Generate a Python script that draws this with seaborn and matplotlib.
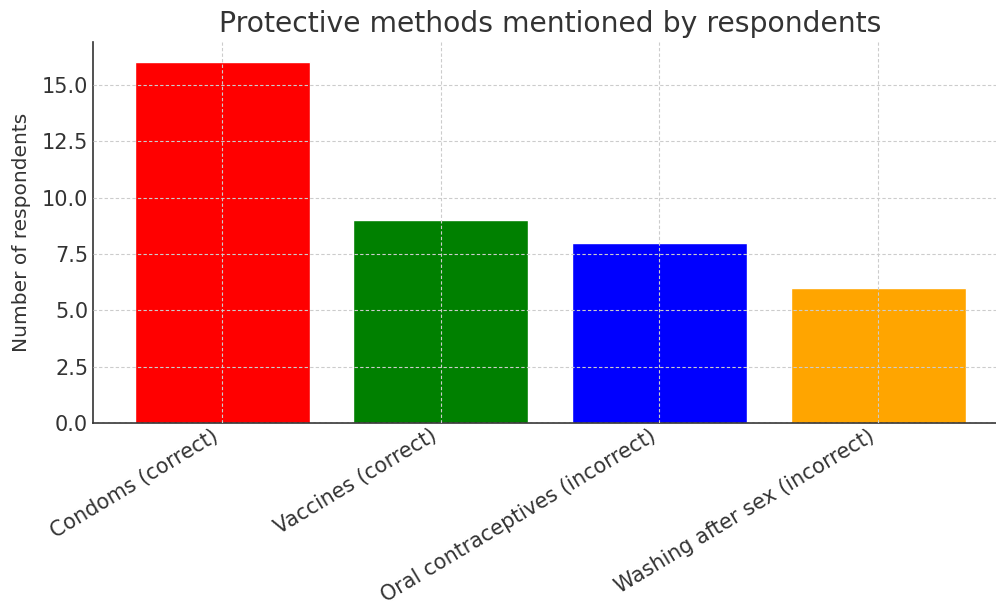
import matplotlib
matplotlib.use("Agg")
import matplotlib.pyplot as plt
import seaborn as sns
import pandas as pd
from matplotlib.ticker import MultipleLocator, FormatStrFormatter

categories = ["Condoms (correct)", "Vaccines (correct)",
              "Oral contraceptives (incorrect)", "Washing after sex (incorrect)"]
counts = [16, 9, 8, 6]
colors = ["red", "green", "blue", "orange"]
title = "Protective methods mentioned by respondents"
ylabel = "Number of respondents"

sns.set_style("white")
plt.rcParams['font.family'] = ['DejaVu Sans']
text_color = "#333333"

df = pd.DataFrame({"method": categories, "count": counts})

fig = plt.figure(figsize=(9.96, 6.05), dpi=100)
ax = fig.add_axes([0.0934, 0.301, 0.9177, 0.6296])
sns.barplot(data=df, x="method", y="count", hue="method", palette=colors,
            saturation=1, width=0.8, legend=False, ax=ax)

ax.set_xlim(-0.59, 3.59)
ax.set_ylim(0, 16.9)
ax.yaxis.set_major_locator(MultipleLocator(2.5))
ax.yaxis.set_major_formatter(FormatStrFormatter("%.1f"))
ax.set_title(title, fontsize=20.3, color=text_color, pad=7)
ax.set_ylabel(ylabel, fontsize=14.5, color=text_color, labelpad=8)
ax.set_xlabel("")
ax.tick_params(axis="both", direction="in", labelsize=15, colors=text_color, length=4)
ax.tick_params(axis="x", pad=2)
plt.setp(ax.get_xticklabels(), rotation=31, ha="right", fontsize=14.9)
ax.grid(True, linestyle=(0, (3, 2)), color="#cccccc", linewidth=0.8)
ax.set_axisbelow(False)
for s in ["top", "right"]:
    ax.spines[s].set_visible(False)
for s in ["left", "bottom"]:
    ax.spines[s].set_color(text_color)
    ax.spines[s].set_linewidth(1.2)

fig.savefig("out.png", dpi=100)
